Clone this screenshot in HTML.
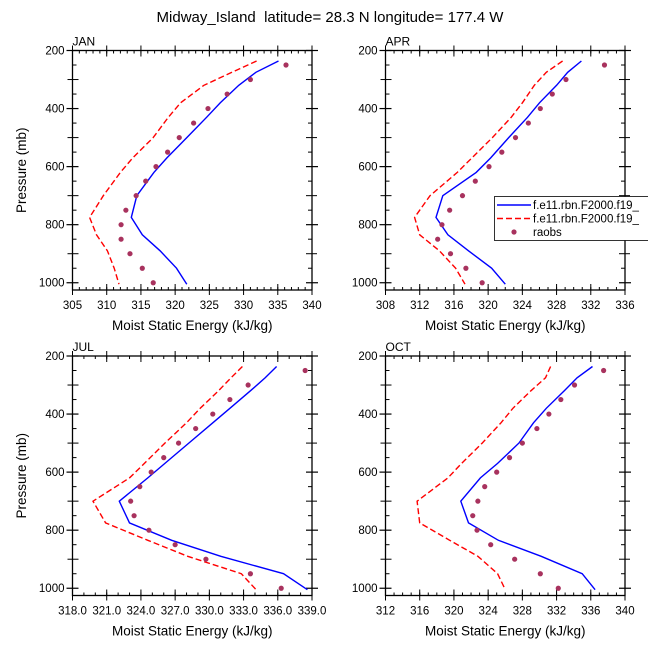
<!DOCTYPE html>
<html><head><meta charset="utf-8"><style>
body{margin:0;background:#fff;}
svg text{font-family:"Liberation Sans",sans-serif;fill:#000;}
</style></head><body>
<svg id="c" width="648" height="649" xmlns="http://www.w3.org/2000/svg">
<text x="330" y="22" font-size="15" text-anchor="middle" style="white-space:pre" xml:space="preserve">Midway_Island  latitude= 28.3 N longitude= 177.4 W</text>
</svg>
<script>
const mdlLev = [236,275,320,380,430,500,570,620,700,775,835,890,950,1005];
const obsLev = [250,300,350,400,450,500,550,600,650,700,750,800,850,900,950,1000];
const janModel1 = [335.1,331.8,329.3,326.6,324.6,321.7,318.8,316.9,314.4,313.6,315.2,317.8,320.2,321.7];
const janModel2 = [331.9,328.3,324.2,320.8,319.0,316.8,313.8,312.0,309.5,307.5,308.5,310.1,311.1,311.8];
const janObs = [336.2,331,327.6,324.8,322.7,320.6,318.9,317.2,315.7,314.3,312.8,312.1,312.1,313.4,315.2,316.8];
const aprModel1 = [330.9,329.3,328,326,324.6,322.4,320.3,318.6,314.7,313.9,315.3,317.7,320.4,322.0];
const aprModel2 = [328.7,326.8,325.4,324.0,322.7,320.5,318.1,316.4,313.2,311.4,312,314.3,316.2,317.3];
const aprObs = [333.6,329.1,327.5,326.1,324.7,323.2,321.6,320.1,318.5,317.0,315.5,314.6,314.1,315.6,317.4,319.3];
const julModel1 = [335.9,334.9,333.6,331.8,330.3,328.2,326.1,324.6,322.1,323.0,326.7,331.0,336.5,338.6];
const julModel2 = [332.9,331.9,330.8,329.2,328,326.1,324.3,323.0,319.8,320.9,324.6,328.1,332.8,334.1];
const julObs = [338.4,333.4,331.8,330.3,328.8,327.3,326.0,324.9,323.9,323.1,323.4,324.7,327.0,329.7,333.6,336.3];
const octModel1 = [336.2,334.4,332.9,330.8,329.3,327.6,325.1,323.1,320.8,321.7,325.2,330.2,335.0,336.5];
const octModel2 = [331.3,330.7,329.0,326.9,325.5,323.3,320.9,319.3,315.7,316.0,319.5,322.8,325.1,326.0];
const octObs = [337.5,334.1,332.5,331.1,329.7,328.0,326.5,325.0,323.6,322.8,322.2,322.7,324.3,327.1,330.1,332.2];
const yTicks = [200,400,600,800,1000];
const janX = [305,310,315,320,325,330,335,340];
const aprX = [308,312,316,320,324,328,332,336];
const julX = ['318.0','321.0','324.0','327.0','330.0','333.0','336.0','339.0'];
const octX = [312,316,320,324,328,332,336,340];
const legendLabels = ['f.e11.rbn.F2000.f19_','f.e11.rbn.F2000.f19_','raobs'];

const svg=document.getElementById('c');
const NS='http://www.w3.org/2000/svg';
function mk(tag,at,parent){const e=document.createElementNS(NS,tag);for(const k in at)e.setAttribute(k,at[k]);(parent||svg).appendChild(e);return e;}

function panel(name,L,T,xt,m1,m2,obs,showY){
  const R=L+239.5,B=T+239.5;
  const xmin=+xt[0],xmax=+xt[xt.length-1];
  const ymin=200,ymax=1025;
  const sx=v=>L+(v-xmin)/(xmax-xmin)*(R-L);
  const sy=p=>T+(p-ymin)/(ymax-ymin)*(B-T);
  const g=mk('g',{});
  
  
  const t=mk('text',{x:L,y:T-5,'font-size':12},g);t.textContent=name;
  
  
  const step=(xmax-xmin)/(xt.length-1);
  const mstep=step/((step%3===0)?3:(step===5?5:4));
  for(let v=xmin;v<=xmax+1e-6;v+=mstep){
    mk('line',{x1:sx(v),x2:sx(v),y1:B,y2:B-3,stroke:'#000','stroke-width':1},g);
    mk('line',{x1:sx(v),x2:sx(v),y1:T,y2:T+3,stroke:'#000','stroke-width':1},g);
  }
  xt.forEach(v=>{
    const x=sx(+v);
    mk('line',{x1:x,x2:x,y1:B-6,y2:B+5,stroke:'#000','stroke-width':1},g);
    mk('line',{x1:x,x2:x,y1:T-5,y2:T+6,stroke:'#000','stroke-width':1},g);
    const tx=mk('text',{x:x,y:B+19,'font-size':11.5,'text-anchor':'middle'},g);tx.textContent=v;
    
    
  });
  for(let p=250;p<1000;p+=100){
    mk('line',{x1:L,x2:L+4,y1:sy(p),y2:sy(p),stroke:'#000'},g);
    mk('line',{x1:R,x2:R-4,y1:sy(p),y2:sy(p),stroke:'#000'},g);
  }
  for(let p=300;p<1000;p+=200){
    mk('line',{x1:L-5,x2:L+6,y1:sy(p),y2:sy(p),stroke:'#000'},g);
    mk('line',{x1:R+5,x2:R-6,y1:sy(p),y2:sy(p),stroke:'#000'},g);
  }
  yTicks.forEach(p=>{
    const y=sy(p);
    mk('line',{x1:L-6,x2:L+6,y1:y,y2:y,stroke:'#000','stroke-width':1.2},g);
    mk('line',{x1:R+6,x2:R-6,y1:y,y2:y,stroke:'#000','stroke-width':1.2},g);
    const ty=mk('text',{x:L-8,y:y+4,'font-size':11.5,'text-anchor':'end'},g);ty.textContent=p;
    
    
  });
  mk('rect',{x:L,y:T,width:R-L,height:B-T,fill:'none',stroke:'#000','stroke-width':1.3},g);
  const pts=a=>a.map((v,i)=>sx(v).toFixed(1)+','+sy(mdlLev[i]).toFixed(1)).join(' ');
  const l2=mk('polyline',{points:pts(m2),fill:'none',stroke:'#f00','stroke-width':1.4,'stroke-dasharray':'6,3'},g);
  
  
  const l1=mk('polyline',{points:pts(m1),fill:'none',stroke:'#0000ff','stroke-width':1.4},g);
  
  
  obs.forEach((v,i)=>{
    const c=mk('circle',{cx:sx(v),cy:sy(obsLev[i]),r:2.6,fill:'#a8325e'},g);
    
    
  });
  const xa=mk('text',{x:(L+R)/2,y:B+40,'font-size':13.5,'text-anchor':'middle'},g);xa.textContent='Moist Static Energy (kJ/kg)';
  
  
  if(showY){
    const ya=mk('text',{x:0,y:0,'font-size':13.5,'text-anchor':'middle',transform:`translate(26,${(T+B)/2}) rotate(-90)`},g);ya.textContent='Pressure (mb)';
    
    
  }
}
panel('JAN',72.5,50.5,janX,janModel1,janModel2,janObs,true);
panel('APR',385.5,50.5,aprX,aprModel1,aprModel2,aprObs,false);
panel('JUL',72.5,356,julX,julModel1,julModel2,julObs,true);
panel('OCT',385.5,356,octX,octModel1,octModel2,octObs,false);

const lg=mk('g',{});


mk('rect',{x:494.5,y:196.5,width:160,height:44,fill:'#fff',stroke:'#000','stroke-width':0.8},lg);
mk('line',{x1:497,x2:531,y1:205,y2:205,stroke:'#0000ff','stroke-width':1.4},lg);
mk('line',{x1:497,x2:531,y1:218.5,y2:218.5,stroke:'#f00','stroke-width':1.4,'stroke-dasharray':'6,3'},lg);
mk('circle',{cx:514,cy:232,r:2.6,fill:'#a8325e'},lg);
legendLabels.forEach((s,i)=>{
  const t=mk('text',{x:533,y:209+i*13.5,'font-size':11.5},lg);t.textContent=s;
  
  
});
</script>
</body></html>
